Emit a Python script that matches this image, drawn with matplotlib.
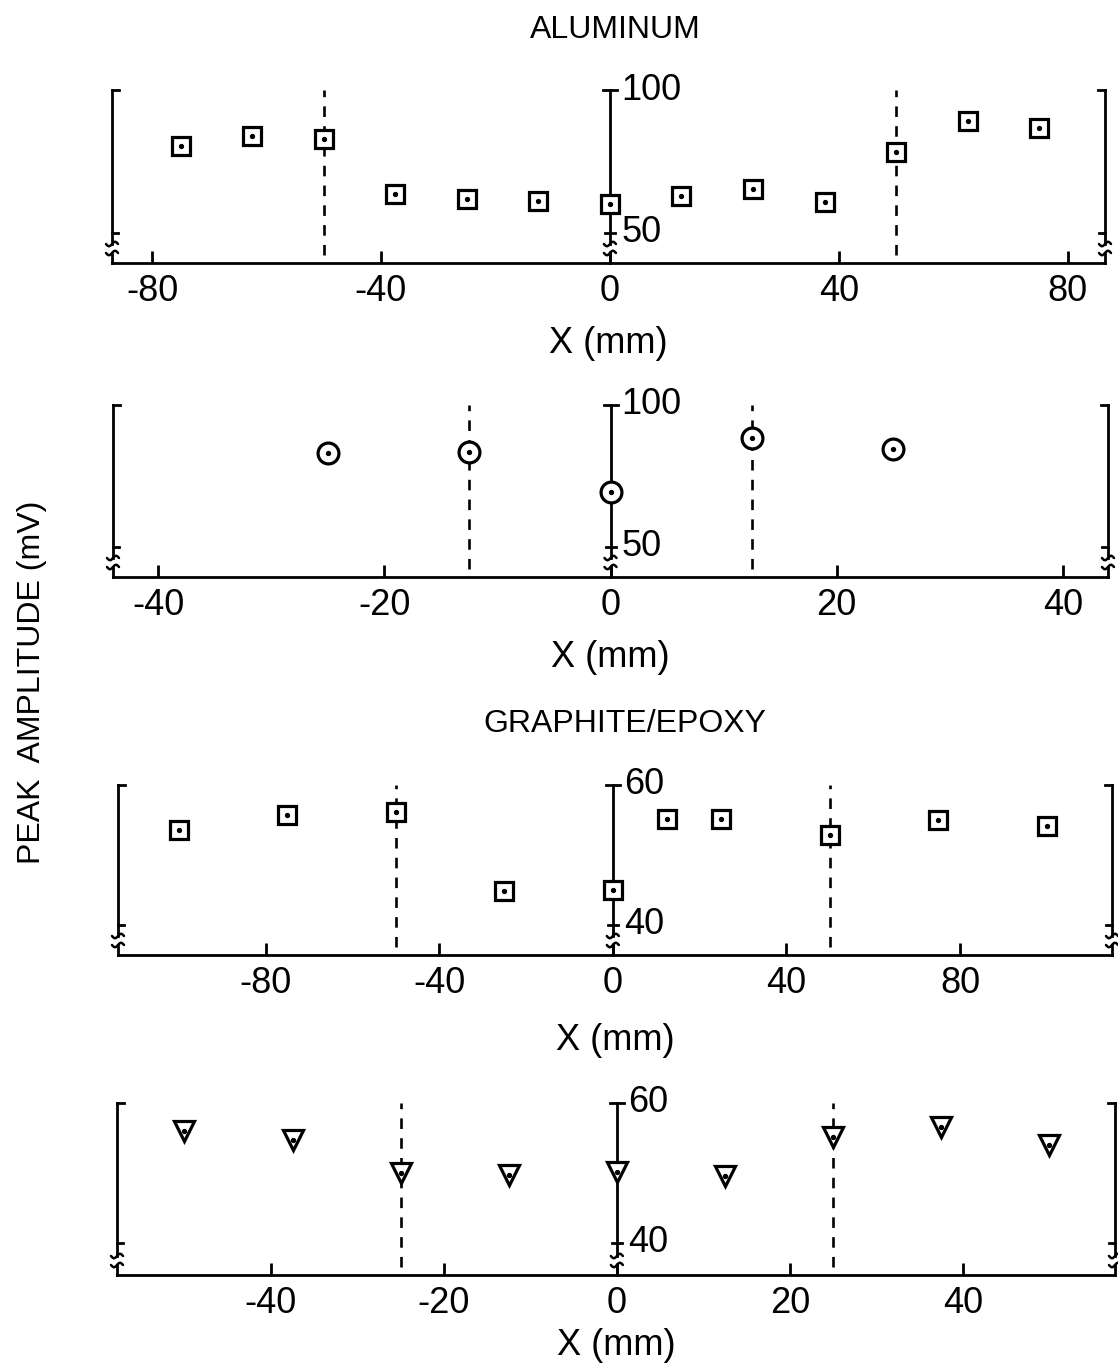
import numpy as np
import matplotlib
matplotlib.use("Agg")
import matplotlib.pyplot as plt

plt.rcParams['font.family'] = ['Liberation Sans', 'DejaVu Sans']

# ---------------- data ----------------
al1_x = [-75, -62.5, -50, -37.5, -25, -12.5, 0, 12.5, 25, 37.5, 50, 62.5, 75]
al1_y = [80.4, 83.9, 82.9, 63.6, 61.9, 61.2, 60.1, 62.9, 65.4, 60.8, 78.3, 89.2, 86.7]
al1_dash = [-50, 50]
al1_ticks = [-80, -40, 0, 40, 80]
al1_ticklabels = ['-80', '-40', '0', '40', '80']

al2_x = [-25, -12.5, 0, 12.5, 25]
al2_y = [83.1, 83.5, 69.4, 88.4, 84.5]
al2_dash = [-12.5, 12.5]
al2_ticks = [-40, -20, 0, 20, 40]
al2_ticklabels = ['-40', '-20', '0', '20', '40']

ge1_x = [-100, -75, -50, -25, 0, 12.5, 25, 50, 75, 100]
ge1_y = [53.6, 55.7, 56.1, 44.9, 45.0, 55.1, 55.1, 52.9, 55.0, 54.1]
ge1_dash = [-50, 50]
ge1_ticks = [-80, -40, 0, 40, 80]
ge1_ticklabels = ['-80', '-40', '0', '40', '80']

ge2_x = [-50, -37.5, -25, -12.5, 0, 12.5, 25, 37.5, 50]
ge2_y = [56.0, 54.7, 50.0, 49.7, 50.1, 49.6, 55.1, 56.6, 54.0]
ge2_dash = [-25, 25]
ge2_ticks = [-40, -20, 0, 20, 40]
ge2_ticklabels = ['-40', '-20', '0', '20', '40']

al_yticks = [50, 100]
ge_yticks = [40, 60]

W, H = 1118, 1367
fig = plt.figure(figsize=(W / 100, H / 100), dpi=100)

LW = 2.0
FS = 23


def panel(left, right, top, bottom, xlim, ylim, xs, ys, marker, ms, dashes,
          ticks, ticklabels, yticks, labelpad):
    ax = fig.add_axes([left / W, 1 - bottom / H, (right - left) / W, (bottom - top) / H])
    ax.set_xlim(*xlim)
    ax.set_ylim(*ylim)
    for s in ['top', 'left', 'right']:
        ax.spines[s].set_visible(False)
    ax.spines['bottom'].set_linewidth(LW)
    ax.set_yticks([])
    ax.set_xticks(ticks)
    ax.set_xticklabels(ticklabels, fontsize=FS + 3)
    ax.tick_params(axis='x', direction='in', length=9, width=LW, pad=8)
    ax.set_xlabel('X (mm)', fontsize=FS + 3, labelpad=labelpad)
    ax.patch.set_alpha(0)

    wpx = right - left
    hpx = bottom - top
    dxp = (xlim[1] - xlim[0]) / wpx
    dyp = (ylim[1] - ylim[0]) / hpx
    y0 = ylim[0]
    ylo_t, yhi_t = yticks
    ytop = ylim[1]

    def wave(xc, yc):
        t = np.linspace(-1, 1, 30)
        ax.plot(xc + t * 6 * dxp, yc + 2.2 * np.sin(t * np.pi) * dyp,
                color='k', lw=LW * 0.9, clip_on=False, solid_capstyle='round')

    def vaxis(xc, serif_dir):
        y_up_end = y0 + 19 * dyp
        y_low_start = y0 + 10 * dyp
        ax.plot([xc, xc], [ytop, y_up_end], color='k', lw=LW, clip_on=False)
        ax.plot([xc, xc], [y_low_start, y0], color='k', lw=LW, clip_on=False)
        wave(xc, y_up_end)
        wave(xc, y_low_start)
        if serif_dir == 0:
            ax.plot([xc - 7 * dxp, xc + 7 * dxp], [ytop, ytop], color='k', lw=LW, clip_on=False)
            ax.plot([xc - 5 * dxp, xc + 5 * dxp], [ylo_t, ylo_t], color='k', lw=LW, clip_on=False)
        else:
            ax.plot([xc, xc + serif_dir * 7 * dxp], [ytop, ytop], color='k', lw=LW, clip_on=False)
            ax.plot([xc, xc + serif_dir * 6 * dxp], [ylo_t, ylo_t], color='k', lw=LW, clip_on=False)

    vaxis(xlim[0], 1)
    vaxis(xlim[1], -1)
    vaxis(0, 0)
    for yv in yticks:
        ax.annotate(str(yv), xy=(0, yv), xytext=(8, 0), textcoords='offset points',
                    va='center', ha='left', fontsize=FS + 3)

    for xd in dashes:
        ax.plot([xd, xd], [y0 + 8 * dyp, ytop], color='k', lw=1.9,
                linestyle=(0, (4, 3.5)), clip_on=False)

    ax.plot(xs, ys, linestyle='none', marker=marker, ms=ms, mfc='white', mec='k',
            mew=2.3, clip_on=False, zorder=5)
    ax.plot(xs, ys, linestyle='none', marker='o', ms=2.8, color='k', clip_on=False, zorder=6)
    return ax


panel(112, 1105, 90, 263, (-87, 86.5), (39.5, 100), al1_x, al1_y, 's', 13.5, al1_dash,
      al1_ticks, al1_ticklabels, al_yticks, 12)
panel(113, 1108, 405, 577, (-44, 44), (39.4, 100), al2_x, al2_y, 'o', 15, al2_dash,
      al2_ticks, al2_ticklabels, al_yticks, 12)
panel(118, 1112, 785, 955, (-114, 115), (35.7, 60), ge1_x, ge1_y, 's', 13.5, ge1_dash,
      ge1_ticks, ge1_ticklabels, ge_yticks, 16)
panel(117, 1115, 1103, 1275, (-57.8, 57.6), (35.4, 60), ge2_x, ge2_y, 'v', 14, ge2_dash,
      ge2_ticks, ge2_ticklabels, ge_yticks, 5)

fig.text(615 / W, 1 - 30 / H, 'ALUMINUM', ha='center', va='center', fontsize=FS)
fig.text(625 / W, 1 - 724 / H, 'GRAPHITE/EPOXY', ha='center', va='center', fontsize=FS)
fig.text(32 / W, 1 - 682 / H, 'PEAK  AMPLITUDE (mV)', ha='center', va='center',
         rotation=90, fontsize=FS)

fig.savefig('out.png', dpi=100)
